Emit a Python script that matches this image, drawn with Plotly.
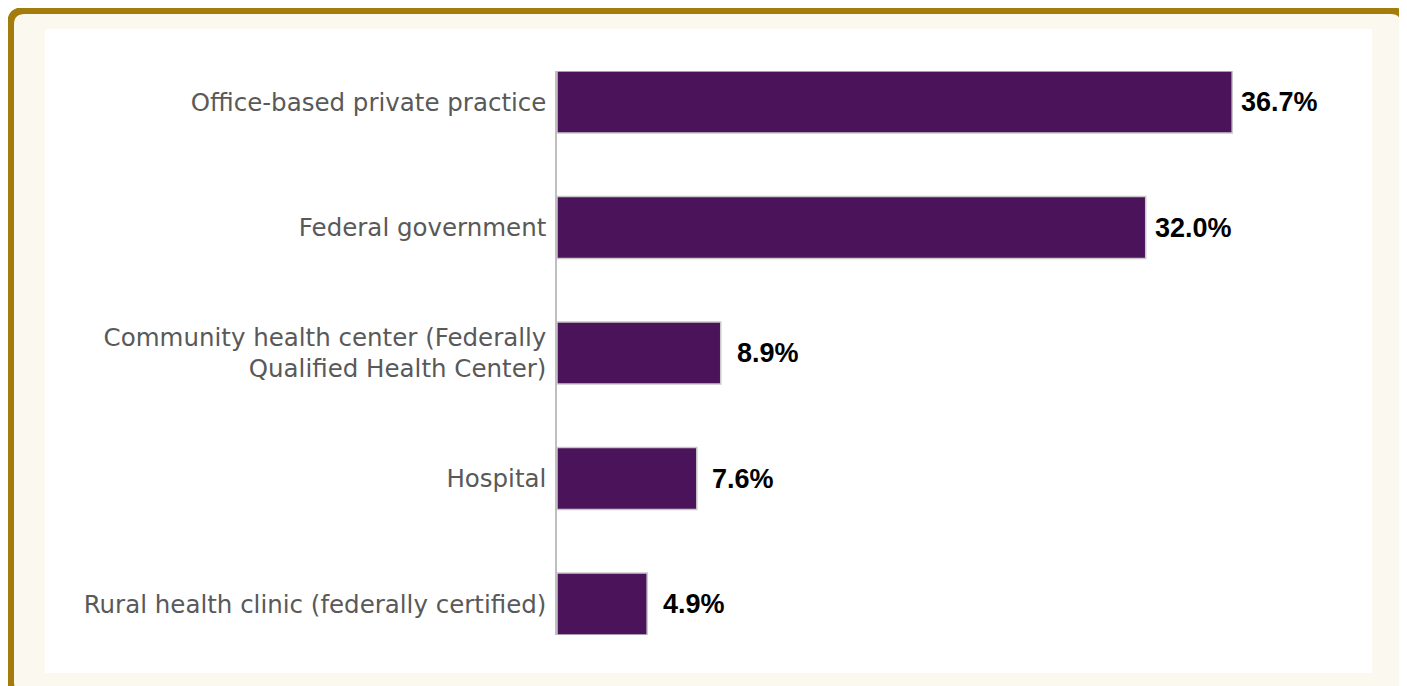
import plotly.graph_objects as go

categories = [
    "Office-based private practice",
    "Federal government",
    "Community health center (Federally<br>Qualified Health Center)",
    "Hospital",
    "Rural health clinic (federally certified)",
]
values = [36.7, 32.0, 8.9, 7.6, 4.9]
value_labels = ["36.7%", "32.0%", "8.9%", "7.6%", "4.9%"]
label_shifts = [7, 7, 14, 13, 14]

# page has an 8px body margin, so the figure is offset by 8px
OFF = 8
W, H = 1407 - OFF, 686 - OFF
PL, PR, PT, PB = 557 - OFF, 1372 - OFF, 71 - OFF, 635 - OFF


def fx(px):
    return (px - OFF - PL) / (PR - PL)


def fy(py):
    return (PB - (py - OFF)) / (PB - PT)


BAR = "#4b145a"
GOLD = "#a47b0d"
CREAM = "#fbf8f0"

fig = go.Figure()
fig.add_trace(go.Bar(
    x=values,
    y=categories,
    orientation="h",
    marker=dict(color=BAR, line=dict(color="#c9c9c9", width=1.5)),
    hoverinfo="skip",
))

for v, lab, s, c in zip(values, value_labels, label_shifts, categories):
    fig.add_annotation(
        x=v, y=c, xref="x", yref="y", text="<b>" + lab + "</b>",
        showarrow=False, xanchor="left", yanchor="middle", xshift=s,
        font=dict(family="Liberation Sans, Arial, sans-serif", size=27, color="#000000"),
    )

# rounded border frame (page pixel coords)
l, t, r, b, rad = 10.5, 10.5, 1404.5, 696, 14
path = (
    f"M {fx(l + rad)},{fy(t)} L {fx(r - rad)},{fy(t)} "
    f"Q {fx(r)},{fy(t)} {fx(r)},{fy(t + rad)} "
    f"L {fx(r)},{fy(b - rad)} Q {fx(r)},{fy(b)} {fx(r - rad)},{fy(b)} "
    f"L {fx(l + rad)},{fy(b)} Q {fx(l)},{fy(b)} {fx(l)},{fy(b - rad)} "
    f"L {fx(l)},{fy(t + rad)} Q {fx(l)},{fy(t)} {fx(l + rad)},{fy(t)} Z"
)
fig.add_shape(type="path", path=path, xref="paper", yref="paper",
              fillcolor=CREAM, line=dict(color=GOLD, width=7), layer="below")
fig.add_shape(type="rect", xref="paper", yref="paper",
              x0=fx(45), x1=fx(1372), y0=fy(673), y1=fy(29),
              fillcolor="#ffffff", line=dict(width=0), layer="below")

fig.update_layout(
    width=W, height=H,
    margin=dict(l=PL, r=W - PR, t=PT, b=H - PB, pad=0),
    paper_bgcolor="#ffffff",
    plot_bgcolor="rgba(0,0,0,0)",
    showlegend=False,
    bargap=0.506,
    xaxis=dict(range=[0, 44.3], visible=False, fixedrange=True),
    yaxis=dict(
        type="category",
        categoryorder="array", categoryarray=categories,
        range=[4.247, -0.247],
        showgrid=False, zeroline=False,
        showline=True, linecolor="#bfbfbf", linewidth=1.5,
        ticks="outside", ticklen=4, tickcolor="rgba(0,0,0,0)",
        tickfont=dict(family="DejaVu Sans, sans-serif", size=24.5, color="#595959"),
        fixedrange=True,
    ),
)

fig.write_html("out.html")
